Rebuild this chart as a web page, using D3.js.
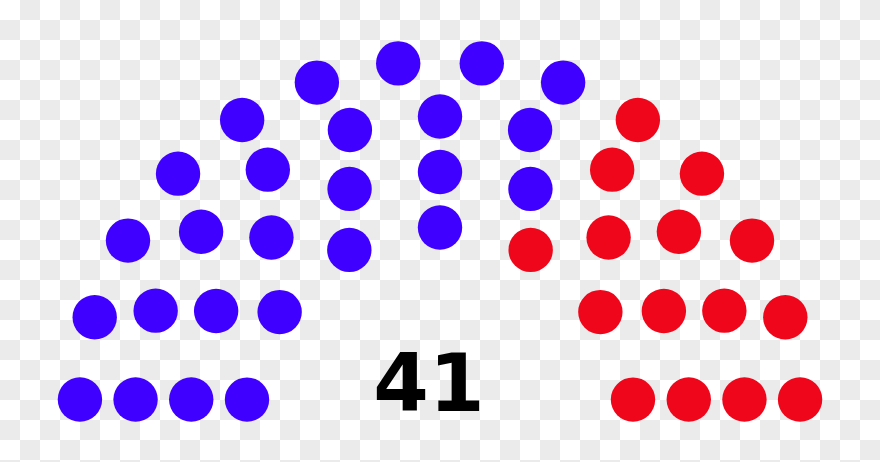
<!DOCTYPE html>
<html>
<head>
<meta charset="utf-8">
<script src="https://cdn.jsdelivr.net/npm/d3@7/dist/d3.min.js"></script>
<style>
  html, body { margin: 0; padding: 0; background: #fff; }
  svg { display: block; }
</style>
</head>
<body>
<svg id="chart" width="880" height="462"></svg>
<script>
// ---- data ----
const parties = ["Party A", "Party B"];
const seats = [26, 15];
const colors = ["#4000ff", "#f0061a"];
const totalLabel = "41";

// ---- layout (parliament arch algorithm) ----
const W = 880, H = 462;
const svg = d3.select("#chart");

// checkerboard background (transparent-image look)
const pat = svg.append("defs").append("pattern")
  .attr("id", "chk").attr("width", 40).attr("height", 40)
  .attr("patternUnits", "userSpaceOnUse");
pat.append("rect").attr("width", 40).attr("height", 40).attr("fill", "#ffffff");
pat.append("rect").attr("x", 20).attr("y", 0).attr("width", 20).attr("height", 20).attr("fill", "#ebebeb");
pat.append("rect").attr("x", 0).attr("y", 20).attr("width", 20).attr("height", 20).attr("fill", "#ebebeb");
svg.append("rect").attr("width", W).attr("height", H).attr("fill", "url(#chk)");

const total = d3.sum(seats);
// number of rows for this total
let rows = 0, Totals = [];
(function () {
  for (let n = 1; n < 50; n++) {
    let t = 0;
    for (let i = 1; i <= n; i++) t += Math.floor(Math.PI / (2 * Math.asin(2 / (3 * n + 4 * i - 2))));
    if (t >= total) { rows = n; break; }
  }
})();
const maxRow = d3.range(1, rows + 1).map(i => Math.PI / (2 * Math.asin(2 / (3 * rows + 4 * i - 2))));
const maxTotal = d3.sum(maxRow.map(Math.floor));
let rowCounts = maxRow.map(m => Math.floor(total / maxTotal * m));
let left = total - d3.sum(rowCounts);
for (let k = rows - 1; left > 0; k = (k - 1 + rows) % rows) { rowCounts[k]++; left--; }

const radius = 0.4 / rows;
let pos = [];
rowCounts.forEach((J, idx) => {
  const i = idx + 1;
  const R = (3 * rows + 4 * i - 2) / (4 * rows);
  if (J === 1) { pos.push({ a: Math.PI / 2, x: 1.75, y: R }); return; }
  const s = Math.sin(radius / R);
  for (let j = 0; j < J; j++) {
    const a = j * (Math.PI - 2 * s) / (J - 1) + s;
    pos.push({ a, x: R * Math.cos(a) + 1.75, y: R * Math.sin(a) });
  }
});
pos.sort((p, q) => (q.a - p.a) || (p.x - q.x));

const partyOf = [];
seats.forEach((n, k) => { for (let i = 0; i < n; i++) partyOf.push(k); });
pos.forEach((p, i) => p.party = partyOf[i]);

const k = 222; // px per unit
const x = d3.scaleLinear().domain([0, 3.5]).range([440 - 1.75 * k, 440 + 1.75 * k]);
const y = d3.scaleLinear().domain([0, 1.75]).range([421.7, 421.7 - 1.75 * k]);
const rPx = radius * k;

svg.append("g").selectAll("circle").data(pos).join("circle")
  .attr("cx", d => x(d.x))
  .attr("cy", d => y(d.y))
  .attr("r", rPx)
  .attr("fill", d => colors[d.party]);

svg.append("text")
  .attr("x", x(1.75) - 0.05 * k)
  .attr("y", y(0.05))
  .attr("text-anchor", "middle")
  .attr("font-family", "DejaVu Sans, sans-serif")
  .attr("font-weight", "bold")
  .attr("font-size", 0.36 * k)
  .attr("fill", "#000")
  .text(totalLabel);
</script>
</body>
</html>
